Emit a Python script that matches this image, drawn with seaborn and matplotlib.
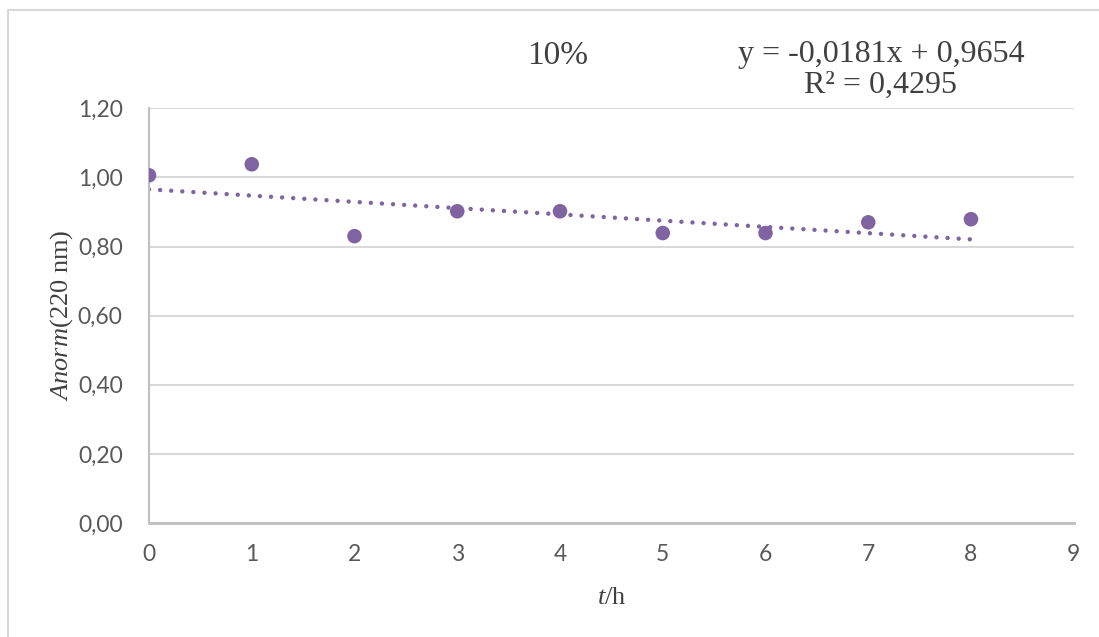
import numpy as np
import pandas as pd
import matplotlib
matplotlib.use("Agg")
import matplotlib.pyplot as plt
import seaborn as sns
from matplotlib.ticker import FuncFormatter, MultipleLocator
from matplotlib.lines import Line2D

# data
t_h = [0, 1, 2, 3, 4, 5, 6, 7, 8]
anorm = [1.006, 1.038, 0.830, 0.902, 0.902, 0.839, 0.839, 0.870, 0.879]

# trendline as printed on the chart
slope = -0.0181
intercept = 0.9654
r2 = 0.4295

title_text = "10%"
eq_text = "y = -0,0181x + 0,9654\nR² = 0,4295"

sns.set_style("white")
plt.rcParams["font.family"] = ["Lato", "DejaVu Sans"]
plt.rcParams["mathtext.fontset"] = "custom"
plt.rcParams["mathtext.rm"] = "Liberation Serif"
plt.rcParams["mathtext.it"] = "Liberation Serif:italic"

purple = "#8064A2"
grid_c = "#D9D9D9"
tick_c = "#595959"
text_c = "#404040"

df = pd.DataFrame({"t": t_h, "A": anorm})
df["trend"] = slope * df["t"] + intercept

fig = plt.figure(figsize=(10.99, 6.37), dpi=100)
ax = fig.add_axes([0.1356, 0.179, 0.977 - 0.1356, 0.830 - 0.179])

# outer chart border: only top and left edges show in the screenshot
bx, by = 7.5 / 1099, 1 - 9.5 / 637
fig.lines.append(Line2D([bx, 1.0], [by, by], transform=fig.transFigure,
                        color=grid_c, linewidth=1.5))
fig.lines.append(Line2D([bx, bx], [0.0, by], transform=fig.transFigure,
                        color=grid_c, linewidth=1.5))

sns.lineplot(data=df, x="t", y="trend", ax=ax, color=purple, linewidth=3.2,
             linestyle=(0, (0.0001, 2.5)), dash_capstyle="round", zorder=2)
sns.scatterplot(data=df, x="t", y="A", ax=ax, color=purple, s=110,
                edgecolor="none", zorder=3)

ax.set_xlim(0, 9)
ax.set_ylim(0, 1.2)
ax.xaxis.set_major_locator(MultipleLocator(1))
ax.yaxis.set_major_locator(MultipleLocator(0.2))
ax.yaxis.set_major_formatter(FuncFormatter(lambda v, p: f"{v:.2f}".replace(".", ",")))

ax.grid(axis="y", color=grid_c, linewidth=1.5)
ax.set_axisbelow(True)
for side in ["top", "right"]:
    ax.spines[side].set_visible(False)
ax.spines["left"].set_color("#BFBFBF")
ax.spines["bottom"].set_color("#BFBFBF")
ax.spines["left"].set_linewidth(1.5)
ax.spines["bottom"].set_linewidth(2)

ax.tick_params(axis="y", length=0, pad=19, labelsize=16.5, labelcolor=tick_c)
ax.tick_params(axis="x", length=0, pad=15, labelsize=16.5, labelcolor=tick_c)

ax.set_xlabel(r"$\mathit{t}$/h", family="Liberation Serif", fontsize=19,
              color=text_c, labelpad=16)
ax.set_ylabel(r"$\mathit{Anorm}$(220 nm)", family="Liberation Serif",
              fontsize=19, color=text_c, labelpad=2)

fig.text(558 / 1099, 1 - 56 / 637, title_text, family="Liberation Serif",
         fontsize=24, color=text_c, ha="center", va="center")
fig.text(881 / 1099, 1 - 70 / 637, eq_text, family="Liberation Serif",
         fontsize=23, color=text_c, ha="center", va="center",
         multialignment="center", linespacing=1.05)

fig.savefig("out.png", dpi=100)
